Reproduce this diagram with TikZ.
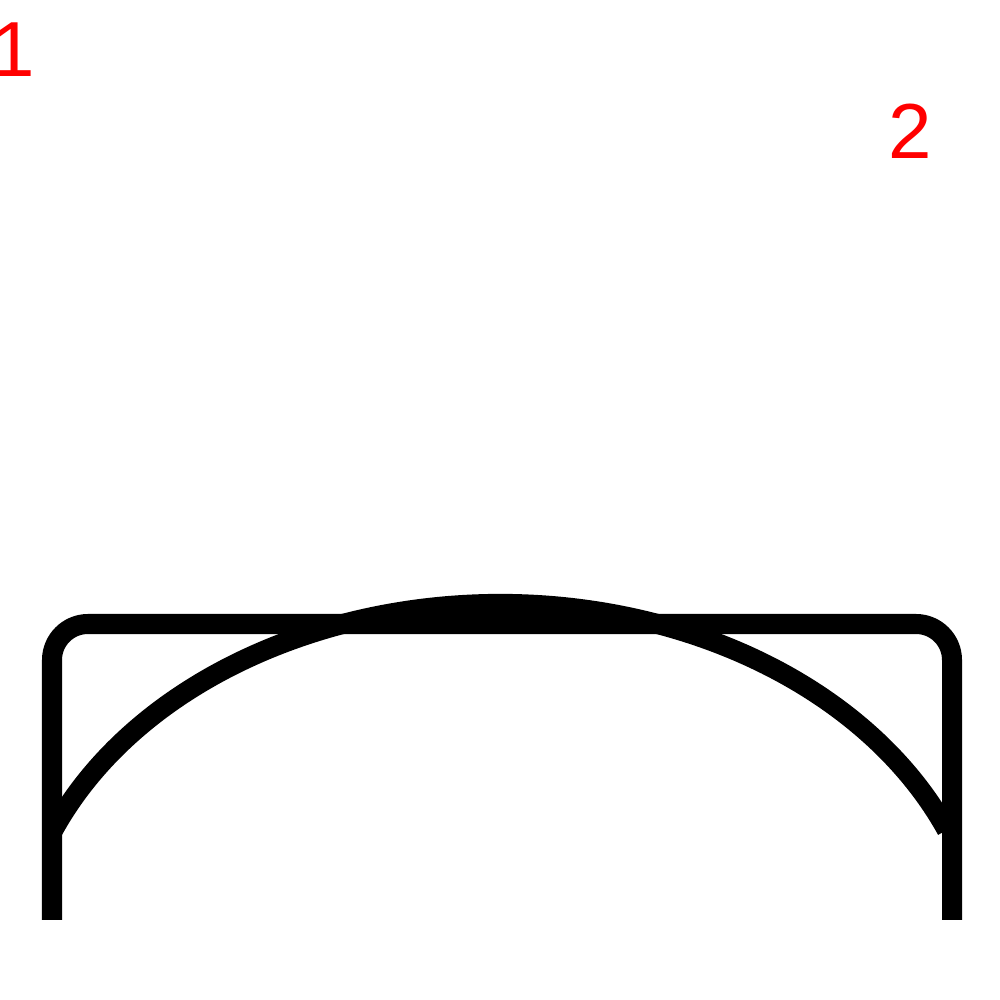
\documentclass[tikz,border=0pt]{standalone}
\usepackage{fontspec}
\setmainfont{Liberation Sans}
\begin{document}
\begin{tikzpicture}[x=0.01cm,y=0.01cm,
  stroke/.style={line width=0.2cm, line cap=butt, line join=miter},
  lbl/.style={text=red, font=\fontsize{22.2}{26}\selectfont, inner sep=0pt}]
\useasboundingbox (0,0) rectangle (1000,1000);
\fill[white] (0,0) rectangle (1000,1000);
\node[lbl] (l1) at (13,950) {1};
\node[lbl] (l2) at (910,869) {2};
\coordinate (bl) at (52,80);
\coordinate (tl) at (52,376);
\coordinate (tr) at (952,376);
\coordinate (br) at (952,80);
\coordinate (as) at (53.3,170);
\draw[stroke, rounded corners=0.36cm] (bl) -- (tl) -- (tr) -- (br);
\draw[stroke] (as) arc[start angle=157.1, end angle=22.9, x radius=485, y radius=370];
\end{tikzpicture}
\end{document}
